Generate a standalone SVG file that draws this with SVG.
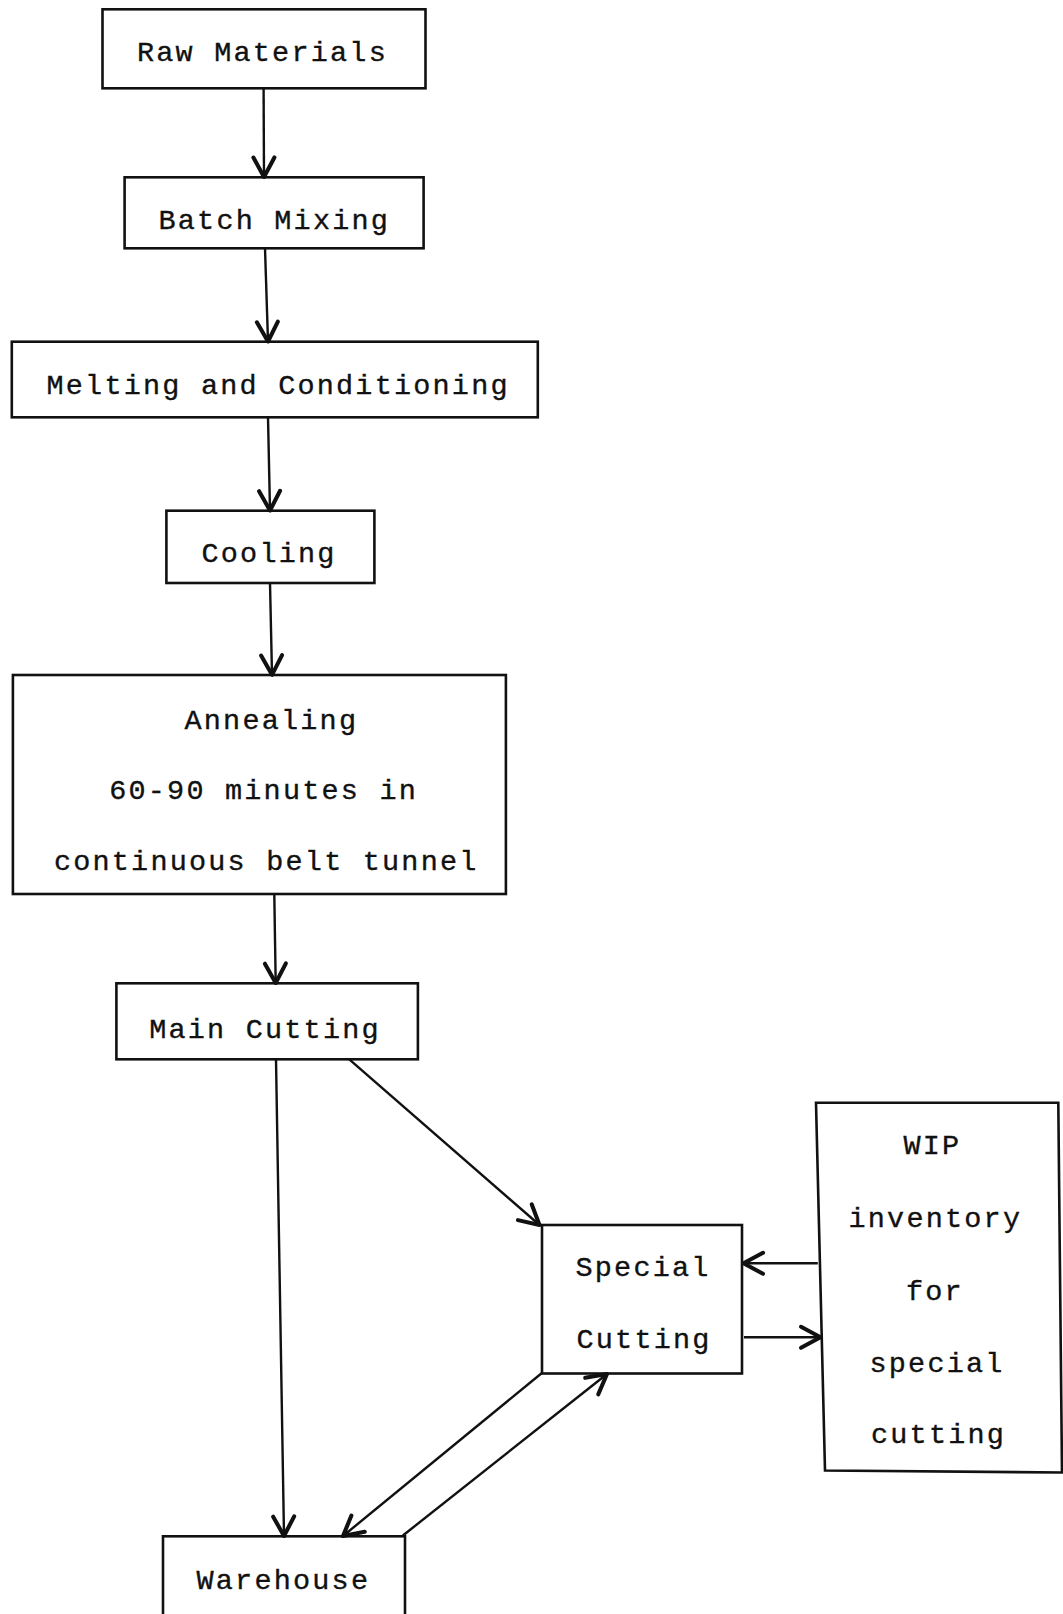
<svg xmlns="http://www.w3.org/2000/svg" width="1063" height="1614" viewBox="0 0 1063 1614">
  <defs>
    <style>
      .box { fill: #ffffff; stroke: #111111; stroke-width: 2.6; stroke-linejoin: miter; }
      .lbl { font-family: "Liberation Mono", "DejaVu Sans Mono", monospace; font-size: 28.5px; letter-spacing: 2.2px; fill: #111111; stroke: #111111; stroke-width: 0.35px; }
      .edge { fill: none; stroke: #111111; stroke-width: 2.4; marker-end: url(#vee); }
    </style>
    <marker id="vee" markerUnits="userSpaceOnUse" markerWidth="30" markerHeight="30" refX="0" refY="0" viewBox="-16 -10 20 20" orient="auto">
      <path d="M -13 -7 L 0 0 L -13 7" fill="none" stroke="#111111" stroke-width="2.7" stroke-linecap="round" stroke-linejoin="round"/>
    </marker>
  </defs>
  <rect width="1063" height="1614" fill="#ffffff"/>

  <!-- process steps -->
  <g id="raw-materials">
    <rect class="box" x="102.5" y="9.3" width="323" height="79"/>
    <text class="lbl" x="137" y="61">Raw Materials</text>
  </g>
  <g id="batch-mixing">
    <rect class="box" x="124.6" y="177.3" width="299" height="71"/>
    <text class="lbl" x="158.5" y="229.3">Batch Mixing</text>
  </g>
  <g id="melting">
    <rect class="box" x="11.8" y="341.7" width="526" height="75.6"/>
    <text class="lbl" x="46.5" y="394.3">Melting and Conditioning</text>
  </g>
  <g id="cooling">
    <rect class="box" x="166.4" y="510.7" width="208" height="72.3"/>
    <text class="lbl" x="201.5" y="561.7">Cooling</text>
  </g>
  <g id="annealing">
    <rect class="box" x="12.9" y="675" width="493" height="219"/>
    <text class="lbl" x="184.5" y="729">Annealing</text>
    <text class="lbl" x="109.2" y="799">60-90 minutes in</text>
    <text class="lbl" x="53.9" y="870">continuous belt tunnel</text>
  </g>
  <g id="main-cutting">
    <rect class="box" x="116.4" y="983.3" width="301.5" height="76"/>
    <text class="lbl" x="149.2" y="1037.7">Main Cutting</text>
  </g>
  <g id="special-cutting">
    <rect class="box" x="542" y="1225" width="200" height="148.5"/>
    <text class="lbl" x="575.5" y="1275.7">Special</text>
    <text class="lbl" x="576.5" y="1348.3">Cutting</text>
  </g>
  <g id="wip-inventory">
    <path class="box" d="M 816 1102.7 L 1058.3 1102.7 L 1062 1472.5 L 825 1470.5 Z"/>
    <text class="lbl" x="903.5" y="1154">WIP</text>
    <text class="lbl" x="848.5" y="1226.7">inventory</text>
    <text class="lbl" x="906" y="1300">for</text>
    <text class="lbl" x="869.5" y="1371.7">special</text>
    <text class="lbl" x="871" y="1443">cutting</text>
  </g>
  <g id="warehouse">
    <rect class="box" x="163" y="1536.3" width="242" height="80"/>
    <text class="lbl" x="196.5" y="1589.3">Warehouse</text>
  </g>

  <!-- flow connectors -->
  <g id="connectors">
    <line class="edge" x1="263.6" y1="88.3" x2="264" y2="177"/>
    <line class="edge" x1="265" y1="248.3" x2="268" y2="341.5"/>
    <line class="edge" x1="268" y1="417.3" x2="270" y2="510.5"/>
    <line class="edge" x1="270" y1="583" x2="272" y2="674.8"/>
    <line class="edge" x1="274.3" y1="894.5" x2="275.7" y2="983"/>
    <line class="edge" x1="276" y1="1059.3" x2="284" y2="1536"/>
    <line class="edge" x1="349.3" y1="1059.3" x2="539.5" y2="1225"/>
    <line class="edge" x1="817.8" y1="1263.3" x2="743.5" y2="1263.3"/>
    <line class="edge" x1="744" y1="1337.3" x2="820.5" y2="1337.3"/>
    <line class="edge" x1="542.5" y1="1372.5" x2="343" y2="1536"/>
    <line class="edge" x1="402.9" y1="1535.5" x2="607" y2="1374"/>
  </g>
</svg>
